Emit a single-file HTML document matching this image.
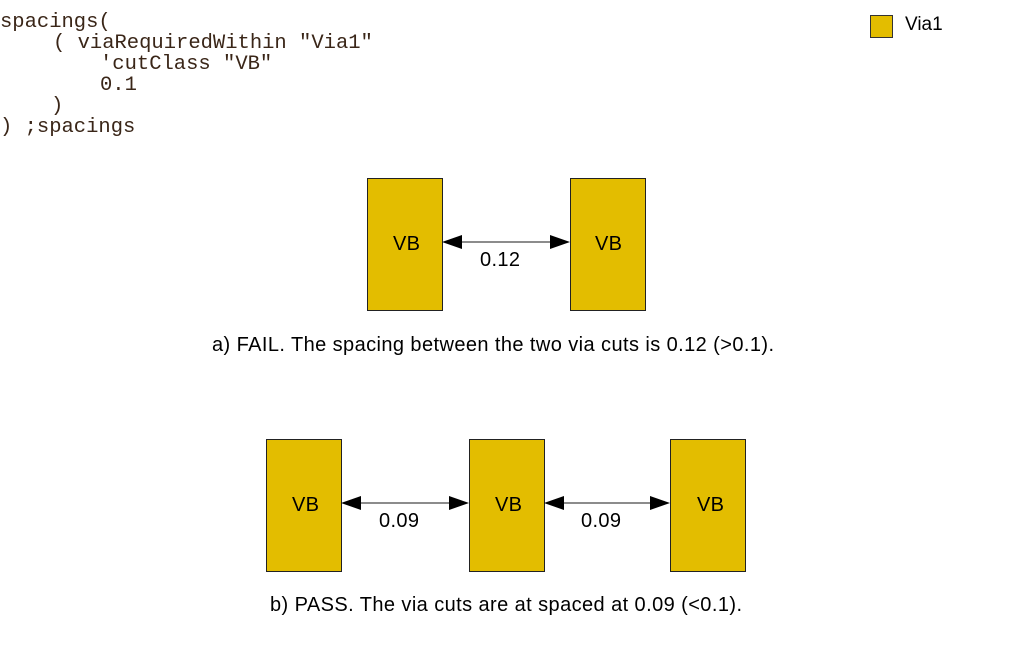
<!DOCTYPE html>
<html><head><meta charset="utf-8"><style>
body{margin:0;width:1013px;height:649px;background:#fff;position:relative;overflow:hidden;font-family:"Liberation Sans",sans-serif}
.c{position:absolute;font-family:"Liberation Mono",monospace;font-size:20.5px;color:#3a2618;white-space:pre;line-height:21px}
.t{position:absolute;font-size:17px;color:#000;white-space:nowrap}
</style></head><body>
<div class="c" style="left:0;top:12px">spacings(</div>
<div class="c" style="left:53px;top:33px">( viaRequiredWithin "Via1"</div>
<div class="c" style="left:100px;top:54px">'cutClass "VB"</div>
<div class="c" style="left:100px;top:75px">0.1</div>
<div class="c" style="left:51px;top:96px">)</div>
<div class="c" style="left:0;top:117px">) ;spacings</div>
<div style="position:absolute;left:870px;top:15px;width:21px;height:21px;background:#e3bd00;border:1px solid #333"></div>
<div class="t" style="left:905px;top:14px;font-size:19px">Via1</div>
<svg width="1013" height="649" style="position:absolute;left:0;top:0">
<g fill="#e3bd00" stroke="#222" stroke-width="1">
<rect x="367.5" y="178.5" width="75" height="132"/>
<rect x="570.5" y="178.5" width="75" height="132"/>
<rect x="266.5" y="439.5" width="75" height="132"/>
<rect x="469.5" y="439.5" width="75" height="132"/>
<rect x="670.5" y="439.5" width="75" height="132"/>
</g>
<g stroke="#666" stroke-width="1.5">
<line x1="455" y1="242" x2="558" y2="242"/>
<line x1="354" y1="503" x2="457" y2="503"/>
<line x1="557" y1="503" x2="658" y2="503"/>
</g>
<g fill="#000">
<polygon points="442,242 462,235 462,249"/><polygon points="570,242 550,235 550,249"/>
<polygon points="341,503 361,496 361,510"/><polygon points="469,503 449,496 449,510"/>
<polygon points="544,503 564,496 564,510"/><polygon points="670,503 650,496 650,510"/>
</g>
<g font-family="Liberation Sans" font-size="20" fill="#000">
<text x="393" y="250" textLength="27">VB</text><text x="595" y="250" textLength="27">VB</text>
<text x="292" y="511" textLength="27">VB</text><text x="495" y="511" textLength="27">VB</text><text x="697" y="511" textLength="27">VB</text>
<text x="480" y="266" textLength="40">0.12</text>
<text x="379" y="527" textLength="40">0.09</text>
<text x="581" y="527" textLength="40">0.09</text>
<text x="212" y="351" textLength="562">a) FAIL. The spacing between the two via cuts is 0.12 (&gt;0.1).</text>
<text x="270" y="611" textLength="472">b) PASS. The via cuts are at spaced at 0.09 (&lt;0.1).</text>
</g>
</svg>
</body></html>
